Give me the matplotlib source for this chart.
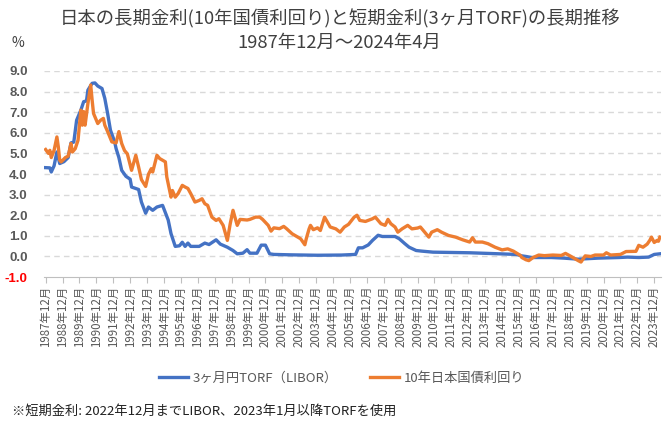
import matplotlib
matplotlib.use("Agg")
import matplotlib.pyplot as plt

plt.rcParams['font.family'] = ['Noto Sans CJK JP', 'DejaVu Sans']

# 3ヶ月円LIBOR / TORF (%)
libor_months = [
    "1987-12", "1988-03", "1988-04", "1988-06", "1988-08", "1988-10", "1989-01", "1989-04",
    "1989-06", "1989-08", "1989-10", "1990-01", "1990-03", "1990-05", "1990-06", "1990-09",
    "1990-11", "1991-01", "1991-04", "1991-06", "1991-08", "1991-10", "1992-01", "1992-02",
    "1992-04", "1992-06", "1992-09", "1992-12", "1993-01", "1993-06", "1993-08", "1993-11",
    "1994-01", "1994-04", "1994-07", "1994-11", "1995-03", "1995-05", "1995-08", "1995-11",
    "1996-01", "1996-03", "1996-05", "1996-07", "1997-01", "1997-05", "1997-08", "1998-01",
    "1998-04", "1998-09", "1999-01", "1999-04", "1999-08", "1999-11", "2000-01", "2000-06",
    "2000-09", "2000-12", "2001-03", "2001-06", "2002-06", "2004-01", "2005-06", "2006-04",
    "2006-06", "2006-09", "2007-01", "2007-04", "2007-08", "2007-11", "2008-08", "2008-11",
    "2009-03", "2009-06", "2009-11", "2010-03", "2010-11", "2013-01", "2014-10", "2015-10",
    "2016-02", "2016-05", "2016-09", "2017-11", "2018-08", "2019-06", "2020-08", "2021-11",
    "2022-05", "2023-01", "2023-08", "2023-12", "2024-04",
]
libor = [
    4.31, 4.30, 4.10, 4.40, 5.07, 4.51, 4.60, 4.80,
    5.51, 5.55, 6.61, 7.10, 7.51, 7.55, 8.07, 8.40,
    8.42, 8.27, 8.15, 7.67, 6.94, 6.13, 5.56, 5.24,
    4.80, 4.18, 3.89, 3.75, 3.37, 3.25, 2.64, 2.10,
    2.40, 2.24, 2.40, 2.48, 1.77, 1.11, 0.49, 0.52,
    0.69, 0.49, 0.65, 0.49, 0.49, 0.65, 0.58, 0.81,
    0.60, 0.45, 0.29, 0.13, 0.16, 0.33, 0.16, 0.16,
    0.55, 0.55, 0.13, 0.10, 0.08, 0.06, 0.07, 0.10,
    0.42, 0.42, 0.56, 0.78, 1.03, 0.97, 0.97, 0.86,
    0.62, 0.45, 0.29, 0.26, 0.21, 0.18, 0.13, 0.10,
    0.03, 0.00, -0.05, -0.05, -0.08, -0.13, -0.08, -0.05,
    -0.03, -0.05, -0.03, 0.10, 0.13,
]

# 10年日本国債利回り (%)
jgb_months = [
    "1987-12", "1988-02", "1988-03", "1988-04", "1988-06", "1988-08", "1988-09", "1988-10",
    "1988-11", "1989-02", "1989-04", "1989-06", "1989-07", "1989-09", "1989-11", "1990-01",
    "1990-02", "1990-03", "1990-04", "1990-06", "1990-08", "1990-09", "1990-10", "1991-01",
    "1991-03", "1991-05", "1991-06", "1991-08", "1991-11", "1992-02", "1992-04", "1992-06",
    "1992-08", "1992-10", "1993-01", "1993-04", "1993-06", "1993-08", "1993-11", "1994-01",
    "1994-03", "1994-04", "1994-07", "1994-09", "1995-01", "1995-02", "1995-04", "1995-05",
    "1995-06", "1995-08", "1995-10", "1996-01", "1996-03", "1996-05", "1996-07", "1996-10",
    "1997-01", "1997-03", "1997-05", "1997-07", "1997-10", "1998-01", "1998-03", "1998-06",
    "1998-09", "1998-11", "1999-01", "1999-02", "1999-04", "1999-06", "1999-11", "2000-01",
    "2000-05", "2000-08", "2000-10", "2001-02", "2001-04", "2001-06", "2001-10", "2002-01",
    "2002-03", "2002-07", "2003-01", "2003-04", "2003-05", "2003-07", "2003-08", "2003-10",
    "2004-01", "2004-03", "2004-06", "2004-08", "2004-10", "2005-02", "2005-05", "2005-08",
    "2005-11", "2006-03", "2006-05", "2006-07", "2006-11", "2007-04", "2007-06", "2007-10",
    "2008-01", "2008-03", "2008-05", "2008-08", "2008-10", "2009-01", "2009-05", "2009-08",
    "2009-12", "2010-02", "2010-06", "2010-08", "2010-10", "2011-02", "2011-05", "2011-10",
    "2012-03", "2012-08", "2013-01", "2013-03", "2013-05", "2013-10", "2014-02", "2014-07",
    "2014-12", "2015-04", "2015-08", "2016-01", "2016-02", "2016-05", "2016-07", "2016-10",
    "2017-02", "2017-06", "2017-12", "2018-06", "2018-09", "2019-01", "2019-06", "2019-08",
    "2019-11", "2020-03", "2020-06", "2020-12", "2021-02", "2021-05", "2021-12", "2022-04",
    "2022-11", "2023-01", "2023-04", "2023-07", "2023-09", "2023-10", "2023-12", "2024-02",
    "2024-03", "2024-04",
]
jgb = [
    5.19, 5.00, 5.15, 4.80, 5.15, 5.80, 5.32, 4.67,
    4.59, 4.80, 4.87, 5.48, 5.07, 5.23, 5.64, 7.10,
    6.37, 7.03, 6.37, 7.42, 8.32, 7.59, 6.94, 6.45,
    6.61, 6.70, 6.37, 6.06, 5.56, 5.51, 6.06, 5.48,
    5.14, 4.98, 4.18, 4.91, 4.34, 3.73, 3.40, 3.99,
    4.26, 4.10, 4.91, 4.75, 4.59, 3.86, 3.20, 2.88,
    3.20, 2.88, 3.05, 3.45, 3.37, 3.30, 3.05, 2.64,
    2.72, 2.80, 2.56, 2.48, 1.91, 1.75, 1.83, 1.51,
    0.78, 1.58, 2.24, 2.00, 1.51, 1.80, 1.77, 1.80,
    1.91, 1.91, 1.80, 1.51, 1.23, 1.39, 1.35, 1.46,
    1.35, 1.10, 0.86, 0.57, 0.86, 1.34, 1.51, 1.30,
    1.39, 1.26, 1.91, 1.67, 1.43, 1.34, 1.18, 1.43,
    1.56, 1.91, 2.00, 1.75, 1.70, 1.83, 1.91, 1.59,
    1.51, 1.80, 1.59, 1.43, 1.18, 1.34, 1.51, 1.34,
    1.38, 1.43, 1.10, 0.94, 1.18, 1.30, 1.18, 1.02,
    0.94, 0.81, 0.70, 0.91, 0.70, 0.70, 0.62, 0.45,
    0.32, 0.37, 0.26, 0.05, -0.05, -0.16, -0.20, -0.05,
    0.07, 0.04, 0.07, 0.05, 0.15, 0.00, -0.20, -0.27,
    0.03, 0.00, 0.07, 0.07, 0.18, 0.07, 0.10, 0.24,
    0.25, 0.54, 0.45, 0.60, 0.80, 0.94, 0.68, 0.78,
    0.74, 0.94,
]

tick_years = list(range(1987, 2024))


def month_index(s):
    y, m = s.split("-")
    return (int(y) - 1987) * 12 + int(m) - 12


fig = plt.figure(figsize=(6.7, 4.25), dpi=100)
ax = fig.add_axes([0.066, 0.348, 0.921, 0.485])

gray = "#595959"
ax.plot([month_index(s) for s in libor_months], libor, color="#4472C4", lw=2.4,
        label="3ヶ月円TORF（LIBOR）", zorder=3)
ax.plot([month_index(s) for s in jgb_months], jgb, color="#ED7D31", lw=2.4,
        label="10年日本国債利回り", zorder=3)

ax.set_xlim(-1, 437)
ax.set_ylim(-1, 9)
ax.set_yticks(range(-1, 10))
ax.set_yticklabels(["%.1f" % v for v in range(-1, 10)], fontweight="bold",
                   color=gray, fontsize=9.5, family=["Liberation Sans", "DejaVu Sans"])
ax.get_yticklabels()[0].set_color("red")
ax.tick_params(axis="y", length=0, pad=12)

for v in range(0, 10):
    ax.axhline(v, color="#D9D9D9", lw=1, ls=(0, (4, 3)), zorder=1)

ax.set_xticks([(y - 1987) * 12 for y in tick_years])
ax.set_xticklabels(["%d年12月" % y for y in tick_years], rotation=90,
                   fontsize=8.3, color=gray, va="top")
ax.tick_params(axis="x", length=4, color="#BFBFBF", pad=2)

for side in ["top", "right", "left"]:
    ax.spines[side].set_visible(False)
ax.spines["bottom"].set_color("#BFBFBF")

fig.text(0.507, 0.955, "日本の長期金利(10年国債利回り)と短期金利(3ヶ月TORF)の長期推移",
         ha="center", va="center", fontsize=13.2, color="#404040")
fig.text(0.507, 0.898, "1987年12月〜2024年4月", ha="center", va="center",
         fontsize=13.2, color="#404040")
fig.text(0.027, 0.898, "%", ha="center", va="center", fontsize=10, color="#404040")

fig.legend(loc="center", bbox_to_anchor=(0.51, 0.11), ncol=2, frameon=False,
           fontsize=9.5, labelcolor=gray, handlelength=2.2, columnspacing=2.5,
           handletextpad=0.3)

fig.text(0.018, 0.033, "※短期金利: 2022年12月までLIBOR、2023年1月以降TORFを使用",
         ha="left", va="center", fontsize=9.5, color="#202020")

fig.savefig("out.png", dpi=100)
